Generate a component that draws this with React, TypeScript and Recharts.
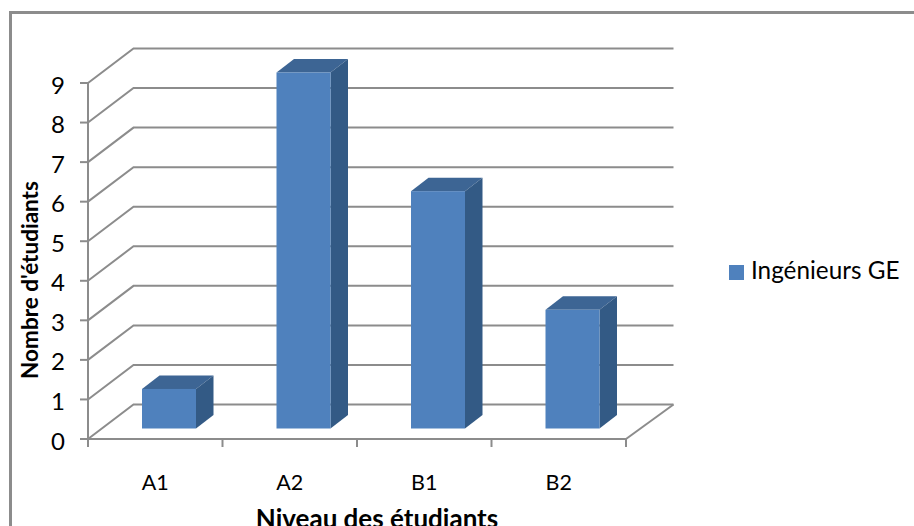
import React from 'react';
import { BarChart, Bar, XAxis, YAxis, CartesianGrid, Legend } from 'recharts';

const categories = ['A1', 'A2', 'B1', 'B2'];
const students = [1, 9, 6, 3];
const yTicks = [0, 1, 2, 3, 4, 5, 6, 7, 8, 9];

const data = categories.map((niveau, i) => ({ niveau, etudiants: students[i] }));

const FONT = 'Lato, "Open Sans", sans-serif';
const LINE = '#8c8c8c';
const FRONT = '#4f81bd';
const SIDE = '#335a85';
const TOP = '#3d6594';

// chart box
const W = 914;
const H = 526;
const LEFT = 88;
const RIGHT = 288;
const TOP_M = 83;
const BOTTOM = 87;
const LEGEND_W = 185; // the legend's width comes off the plot, so the margin gives it back

// fake 3D: the floor depth, and how far a column sits in from the front edge
const DEPTH_X = 45.5;
const DEPTH_Y = 34.5;
const BACK_EXTRA = 2; // back wall runs a touch wider than the front edge
const BAR_IN_X = 14;
const BAR_IN_Y = 10.5;
const BAR_DX = 17.5;
const BAR_DY = 13.5;
const TICK_LEN = 8;

const Column = (props: any) => {
  const { x, y, width, height } = props;
  const l = x + BAR_IN_X;
  const t = y - BAR_IN_Y;
  const r = l + width;
  const b = t + height;
  return (
    <g>
      <polygon
        points={`${l},${t} ${l + BAR_DX},${t - BAR_DY} ${r + BAR_DX},${t - BAR_DY} ${r},${t}`}
        fill={TOP}
      />
      <polygon
        points={`${r},${t} ${r + BAR_DX},${t - BAR_DY} ${r + BAR_DX},${b - BAR_DY} ${r},${b}`}
        fill={SIDE}
      />
      <rect x={l} y={t} width={width} height={height} fill={FRONT} />
    </g>
  );
};

// each gridline runs up the side wall, then along the back wall;
// the zero line also closes the floor on the right
const WallLine = (props: any) => {
  const { x1, x2, y1 } = props;
  const backX = x2 + DEPTH_X + BACK_EXTRA;
  const backY = y1 - DEPTH_Y;
  const isFloor = Math.abs(y1 - (H - BOTTOM)) < 1;
  return (
    <g>
      <polyline
        points={`${x1},${y1} ${x1 + DEPTH_X},${backY} ${backX},${backY}`}
        fill="none"
        stroke={LINE}
        strokeWidth={2}
      />
      {isFloor && <line x1={x2} y1={y1} x2={backX} y2={backY} stroke={LINE} strokeWidth={2} />}
    </g>
  );
};

// ticks sit on the category boundaries, labels stay centred in the band
const CategoryTick = (props: any) => {
  const { x, y, payload, index } = props;
  const band = (W - LEFT - RIGHT) / categories.length;
  const left = x - band / 2;
  const axisY = H - BOTTOM;
  return (
    <g>
      <line x1={left} x2={left} y1={axisY} y2={axisY + TICK_LEN} stroke={LINE} strokeWidth={2} />
      {index === categories.length - 1 && (
        <line x1={left + band} x2={left + band} y1={axisY} y2={axisY + TICK_LEN} stroke={LINE} strokeWidth={2} />
      )}
      <text x={x} y={y + 43} textAnchor="middle" fontFamily={FONT} fontSize={21.5} fill="#000">
        {payload.value}
      </text>
    </g>
  );
};

const App = () => (
  <div
    style={{
      position: 'absolute',
      left: 0,
      top: 0,
      width: W,
      height: H,
      background: '#fff',
      overflow: 'hidden',
    }}
  >
    <div
      style={{
        position: 'absolute',
        left: 9,
        top: 11,
        width: W,
        height: H,
        border: `3px solid ${LINE}`,
        boxSizing: 'border-box',
      }}
    />
    <div style={{ position: 'absolute', left: 0, top: 0 }}>
      <BarChart
        width={W}
        height={H}
        data={data}
        barSize={54}
        margin={{ left: 0, right: RIGHT - LEGEND_W, top: TOP_M, bottom: 0 }}
      >
        <CartesianGrid vertical={false} horizontal={<WallLine />} />
        <XAxis
          dataKey="niveau"
          height={BOTTOM}
          tick={<CategoryTick />}
          tickLine={false}
          interval={0}
          axisLine={{ stroke: LINE, strokeWidth: 2 }}
          label={{
            value: 'Niveau des étudiants',
            content: () => (
              <text x={377} y={528} textAnchor="middle" fontFamily={FONT} fontSize={26} fontWeight={700} fill="#000">
                Niveau des étudiants
              </text>
            ),
          }}
        />
        <YAxis
          width={LEFT}
          domain={[0, 9]}
          ticks={yTicks}
          interval={0}
          tickSize={TICK_LEN}
          tickMargin={15}
          tick={{ fontFamily: FONT, fontSize: 24, fill: '#000', dy: 2 }}
          tickLine={{ stroke: LINE, strokeWidth: 2 }}
          axisLine={{ stroke: LINE, strokeWidth: 2 }}
          label={{
            value: "Nombre d'étudiants",
            content: () => (
              <text
                x={38}
                y={280}
                textAnchor="middle"
                transform="rotate(-90 38 280)"
                fontFamily={FONT}
                fontSize={22.5}
                fontWeight={700}
                fill="#000"
              >
                Nombre d'étudiants
              </text>
            ),
          }}
        />
        <Bar dataKey="etudiants" name="Ingénieurs GE" fill={FRONT} shape={<Column />} isAnimationActive={false} />
        <Legend
          layout="vertical"
          align="right"
          verticalAlign="top"
          iconType="square"
          iconSize={15}
          wrapperStyle={{ left: 729, top: 255, width: LEGEND_W, fontFamily: FONT, fontSize: 24.3 }}
          formatter={(value: string) => <span style={{ color: '#000', marginLeft: 3 }}>{value}</span>}
        />
      </BarChart>
    </div>
  </div>
);

export default App;
